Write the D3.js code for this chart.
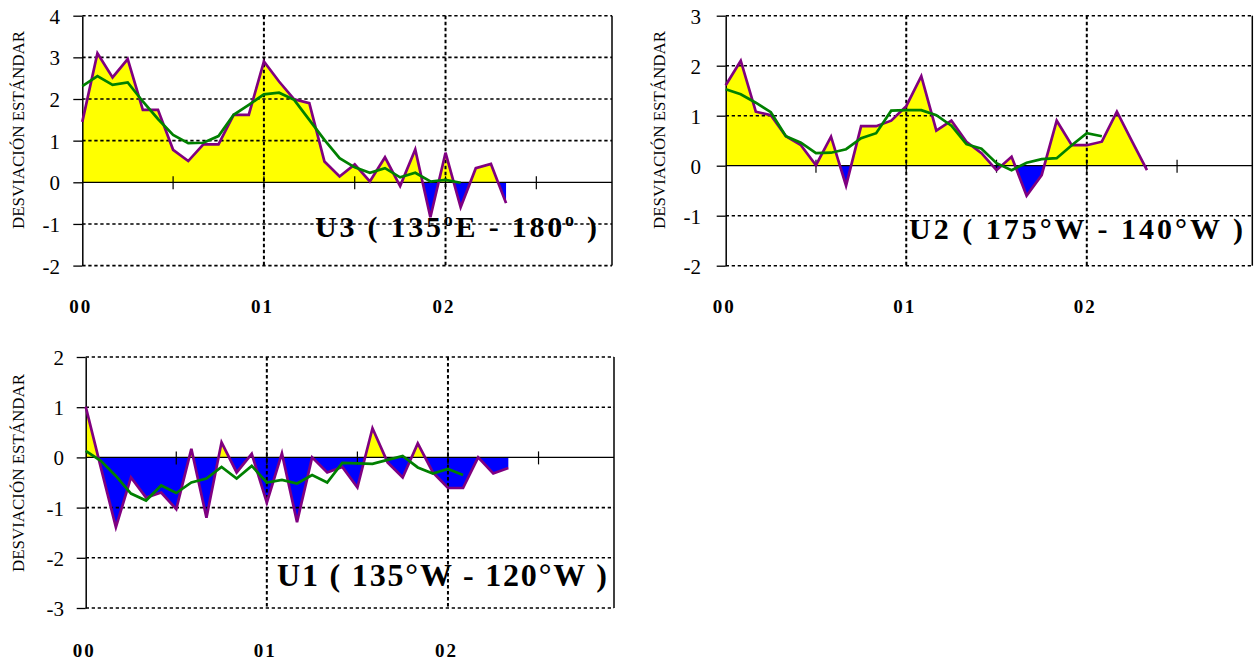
<!DOCTYPE html>
<html>
<head>
<meta charset="utf-8">
<script src="https://cdn.jsdelivr.net/npm/d3@7/dist/d3.min.js"></script>
<style>
  html, body { margin: 0; padding: 0; background: #fff; }
  svg { display: block; }
</style>
</head>
<body>
<svg id="chart" width="1255" height="666"></svg>
<script>
// ---------- DATA (monthly, Jan 2000 onward) ----------
const xTickLabels = ["00", "01", "02"];
const xTickLabelIdx = [0, 12, 24];
const xMinorTicks = [6, 12, 18, 24, 30];
const xGridIdx = [12, 24];

const u3Raw  = [1.45, 3.1, 2.52, 2.96, 1.74, 1.74, 0.78, 0.51, 0.91, 0.91, 1.62, 1.62, 2.9, 2.42, 1.99, 1.9, 0.5, 0.14, 0.43, 0.02, 0.6, -0.09, 0.79, -0.84, 0.71, -0.6, 0.34, 0.44, -0.5];
const u3Mean = [2.31, 2.55, 2.34, 2.4, 1.94, 1.52, 1.14, 0.94, 0.95, 1.11, 1.62, 1.86, 2.11, 2.15, 1.98, 1.5, 1.02, 0.58, 0.36, 0.23, 0.34, 0.12, 0.23, 0.02, 0.06, -0.01];
const u3Ticks = [4, 3, 2, 1, 0, -1, -2];

const u2Raw  = [1.61, 2.1, 1.08, 1.01, 0.59, 0.41, 0.01, 0.58, -0.4, 0.79, 0.79, 0.9, 1.19, 1.79, 0.7, 0.9, 0.48, 0.25, -0.09, 0.18, -0.6, -0.19, 0.9, 0.41, 0.41, 0.48, 1.08, 0.49, -0.09];
const u2Mean = [1.53, 1.43, 1.26, 1.07, 0.59, 0.46, 0.25, 0.26, 0.33, 0.55, 0.65, 1.1, 1.11, 1.11, 1.01, 0.8, 0.43, 0.34, 0.05, -0.09, 0.06, 0.13, 0.15, 0.41, 0.65, 0.59];
const u2Ticks = [3, 2, 1, 0, -1, -2];

const u1Raw  = [1.01, -0.2, -1.39, -0.4, -0.8, -0.7, -1.03, 0.17, -1.2, 0.3, -0.3, 0.07, -0.9, 0.08, -1.29, 0.0, -0.3, -0.19, -0.6, 0.58, -0.1, -0.4, 0.28, -0.3, -0.61, -0.61, 0.0, -0.32, -0.21];
const u1Mean = [0.13, -0.07, -0.37, -0.72, -0.86, -0.56, -0.71, -0.5, -0.42, -0.19, -0.42, -0.17, -0.5, -0.45, -0.52, -0.35, -0.5, -0.11, -0.12, -0.13, -0.05, 0.03, -0.2, -0.32, -0.23, -0.35];
const u1Ticks = [2, 1, 0, -1, -2, -3];

const yTitle = "DESVIACIÓN ESTÁNDAR";

// ---------- LAYOUT ----------
const panels = [
  { id: "u3", raw: u3Raw, mean: u3Mean, ticks: u3Ticks, yDom: [-2, 4],
    x0: 82.3, x1: 612, yTop: 15.7, yBot: 265.6, labelRight: 60, yTitleX: 18, yTitleY: 130, xLabY: 313,
    title: [["U3 ( 135", 0], ["o", -1], ["E - 180", 1], ["o", -1], [" )", 1]],
    tX: 315, tY: 236.7, tLen: 282, tSize: 30 },
  { id: "u2", raw: u2Raw, mean: u2Mean, ticks: u2Ticks, yDom: [-2, 3],
    x0: 725.7, x1: 1252.3, yTop: 15.7, yBot: 265.7, labelRight: 701, yTitleX: 659, yTitleY: 130, xLabY: 313,
    title: [["U2 ( 175°W - 140°W )", 0]],
    tX: 909, tY: 239, tLen: 334, tSize: 30 },
  { id: "u1", raw: u1Raw, mean: u1Mean, ticks: u1Ticks, yDom: [-3, 2],
    x0: 85.7, x1: 614, yTop: 357, yBot: 608, labelRight: 64, yTitleX: 18, yTitleY: 473, xLabY: 656.5,
    title: [["U1 ( 135°W - 120°W )", 0]],
    tX: 277, tY: 586, tLen: 330, tSize: 32 }
];

const svg = d3.select("#chart");
const defs = svg.append("defs");
const serif = "'Liberation Serif', 'Times New Roman', 'DejaVu Serif', serif";

panels.forEach(p => {
  const x = d3.scaleLinear().domain([0, 35]).range([p.x0, p.x1]);
  const y = d3.scaleLinear().domain(p.yDom).range([p.yBot, p.yTop]);
  const g = svg.append("g");
  const y0 = y(0);

  // clip paths
  defs.append("clipPath").attr("id", p.id + "pos").append("rect")
    .attr("x", p.x0).attr("y", p.yTop).attr("width", p.x1 - p.x0).attr("height", y0 - p.yTop);
  defs.append("clipPath").attr("id", p.id + "neg").append("rect")
    .attr("x", p.x0).attr("y", y0).attr("width", p.x1 - p.x0).attr("height", p.yBot - y0);

  const area = d3.area().x((d, i) => x(i)).y0(y0).y1(d => y(d));
  g.append("path").datum(p.raw).attr("d", area).attr("fill", "#ffff00")
    .attr("clip-path", `url(#${p.id}pos)`);
  g.append("path").datum(p.raw).attr("d", area).attr("fill", "#0000ff")
    .attr("clip-path", `url(#${p.id}neg)`);

  // horizontal dotted gridlines
  g.selectAll(".hg").data(p.ticks.filter(t => t !== 0)).enter().append("line")
    .attr("x1", p.x0).attr("x2", p.x1)
    .attr("y1", d => y(d)).attr("y2", d => y(d))
    .attr("stroke", "#000").attr("stroke-width", 1.6).attr("stroke-dasharray", "3.3,2.7");
  // vertical dotted gridlines
  g.selectAll(".vg").data(xGridIdx).enter().append("line")
    .attr("x1", d => x(d)).attr("x2", d => x(d))
    .attr("y1", p.yTop).attr("y2", p.yBot)
    .attr("stroke", "#000").attr("stroke-width", 2).attr("stroke-dasharray", "3.5,2.5");

  // right border
  g.append("line").attr("x1", p.x1).attr("x2", p.x1).attr("y1", p.yTop).attr("y2", p.yBot)
    .attr("stroke", "#000").attr("stroke-width", 1.5);

  // zero line
  g.append("line").attr("x1", p.x0).attr("x2", p.x1).attr("y1", y0).attr("y2", y0)
    .attr("stroke", "#000").attr("stroke-width", 1.2);
  // x ticks on zero line
  g.selectAll(".xt").data(xMinorTicks).enter().append("line")
    .attr("x1", d => x(d)).attr("x2", d => x(d))
    .attr("y1", y0 - 6).attr("y2", y0 + 7)
    .attr("stroke", "#000").attr("stroke-width", 1.2);

  // y axis
  const axis = d3.axisLeft(y).tickValues(p.ticks).tickSize(9).tickSizeOuter(0)
    .tickFormat(d => String(d));
  const ag = g.append("g").attr("transform", `translate(${p.x0},0)`).call(axis);
  ag.select(".domain").attr("stroke", "#000").attr("stroke-width", 1.5);
  ag.selectAll(".tick line").attr("stroke", "#000").attr("stroke-width", 1.3);
  ag.selectAll(".tick text")
    .attr("x", -(p.x0 - p.labelRight))
    .attr("dy", "0.36em")
    .style("font-family", serif).style("font-size", "21px").attr("fill", "#000");

  // lines
  const line = d3.line().x((d, i) => x(i)).y(d => y(d));
  g.append("path").datum(p.raw).attr("d", line).attr("fill", "none")
    .attr("stroke", "#800080").attr("stroke-width", 2.7).attr("stroke-linejoin", "miter");
  g.append("path").datum(p.mean).attr("d", line).attr("fill", "none")
    .attr("stroke", "#008000").attr("stroke-width", 2.7);

  // x labels
  g.selectAll(".xl").data(xTickLabelIdx).enter().append("text")
    .attr("x", d => x(d) - 1.5).attr("y", p.xLabY)
    .attr("text-anchor", "middle")
    .style("font-family", serif).style("font-size", "19px").style("font-weight", "bold")
    .style("letter-spacing", "2px")
    .text((d, i) => xTickLabels[i]);

  // y title
  g.append("text")
    .attr("transform", `translate(${p.yTitleX},${p.yTitleY}) rotate(-90)`)
    .attr("text-anchor", "middle").attr("dy", "0.35em")
    .attr("textLength", 198).attr("lengthAdjust", "spacingAndGlyphs")
    .style("font-family", serif).style("font-size", "16px")
    .text(yTitle);

  // panel title
  const t = g.append("text")
    .attr("x", p.tX).attr("y", p.tY)
    .attr("textLength", p.tLen).attr("lengthAdjust", "spacing")
    .style("font-family", serif).style("font-size", p.tSize + "px").style("font-weight", "bold")
    .attr("fill", "#000");
  p.title.forEach(([s, lvl]) => {
    const ts = t.append("tspan").text(s);
    if (lvl === -1) { ts.attr("dy", -11).style("font-size", (p.tSize * 0.6) + "px"); }
    else if (lvl === 1) { ts.attr("dy", 11); }
  });
});
</script>
</body>
</html>
